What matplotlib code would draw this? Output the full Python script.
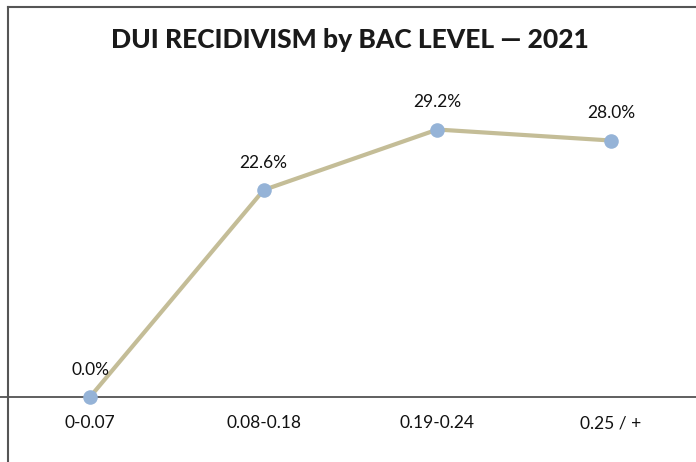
import matplotlib
matplotlib.use("Agg")
import matplotlib.pyplot as plt
from matplotlib.lines import Line2D

categories = ["0-0.07", "0.08-0.18", "0.19-0.24", "0.25 / +"]
values = [0.0, 22.6, 29.2, 28.0]
labels = ["0.0%", "22.6%", "29.2%", "28.0%"]
title = "DUI RECIDIVISM by BAC LEVEL \u2014 2021"

W, H = 696, 462
fig = plt.figure(figsize=(W / 100, H / 100), dpi=100)
fig.patch.set_facecolor("white")
ax = fig.add_axes([0, 0, 1, 1])
ax.set_facecolor("none")

# pixel mapping
x0_px, dx_px = 90, 173.7
y0_px, dy_px = 397, 9.16
ax.set_xlim(-x0_px / dx_px, (W - x0_px) / dx_px)
ax.set_ylim(-(H - y0_px) / dy_px, y0_px / dy_px)

xs = list(range(len(categories)))
ax.plot(xs, values, color="#c4bd97", lw=3.0, zorder=2, solid_capstyle="round")
ax.plot(xs, values, "o", color="#95b3d7", markersize=10.5, markeredgewidth=0, zorder=3)

for x, v, lab in zip(xs, values, labels):
    ax.annotate(lab, (x, v), xytext=(0, 19.5), textcoords="offset points",
                ha="center", va="center", fontsize=12.5, family="Lato", color="#111111")

for x, c in zip(xs, categories):
    ax.annotate(c, (x, 0), xytext=(0, -19), textcoords="offset points",
                ha="center", va="center", fontsize=12.5, family="Lato", color="#111111")

ax.axhline(0, color="#444444", lw=1.2, zorder=1)
for s in ax.spines.values():
    s.set_visible(False)
ax.set_xticks([])
ax.set_yticks([])

# outer frame (left and top)
fig.add_artist(Line2D([7.5 / W, 7.5 / W], [0, 1 - 6.5 / H], transform=fig.transFigure,
                      color="#555555", lw=1.5))
fig.add_artist(Line2D([7.5 / W, 1], [1 - 6.5 / H, 1 - 6.5 / H], transform=fig.transFigure,
                      color="#555555", lw=1.5))

fig.text(350 / W, 1 - 40 / H, title, ha="center", va="center", fontsize=19,
         fontweight="black", family="Lato", color="#1a1a1a")

fig.savefig("out.png", dpi=100, facecolor="white")
